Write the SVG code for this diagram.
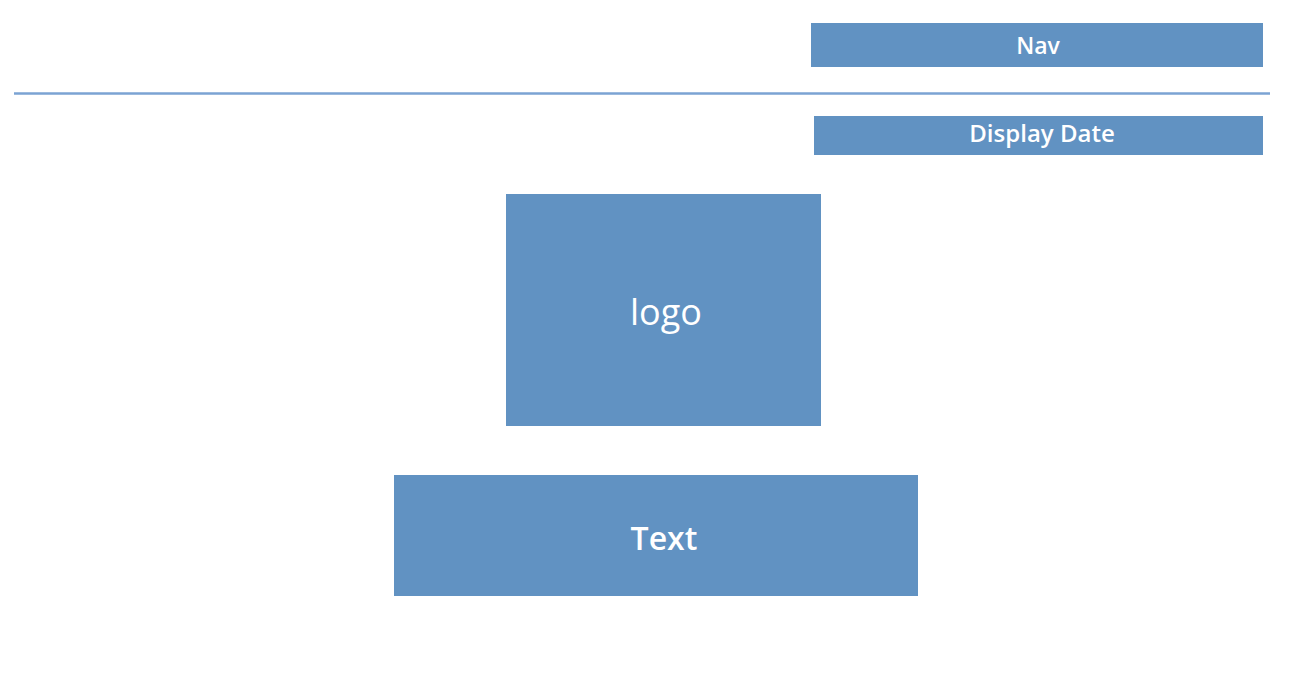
<svg xmlns="http://www.w3.org/2000/svg" width="1300" height="700" viewBox="0 0 1300 700">
<style>
.box{fill:#6192C2;}
.lbl{fill:#FFFFFF;font-family:"Comic Sans MS","Open Sans","DejaVu Sans",sans-serif;text-anchor:middle;dominant-baseline:central;}
</style>
<rect width="1300" height="700" fill="#FFFFFF"/>
<g id="connectors">
<line x1="14" y1="93.5" x2="1270" y2="93.5" stroke="#7BA3D3" stroke-width="2.5"/>
</g>
<g id="nav">
<rect class="box" x="811" y="23" width="452" height="44"/>
<text class="lbl" x="1038" y="45" font-size="23" font-weight="600">Nav</text>
</g>
<g id="display-date">
<rect class="box" x="814" y="116" width="449" height="39"/>
<text class="lbl" x="1042" y="132" font-size="24" font-weight="600">Display Date</text>
</g>
<g id="logo">
<rect class="box" x="506" y="194" width="315" height="232"/>
<text class="lbl" x="666" y="311" font-size="36">logo</text>
</g>
<g id="text">
<rect class="box" x="394" y="475" width="524" height="121"/>
<text class="lbl" x="664" y="537" font-size="32" font-weight="600">Text</text>
</g>
</svg>
